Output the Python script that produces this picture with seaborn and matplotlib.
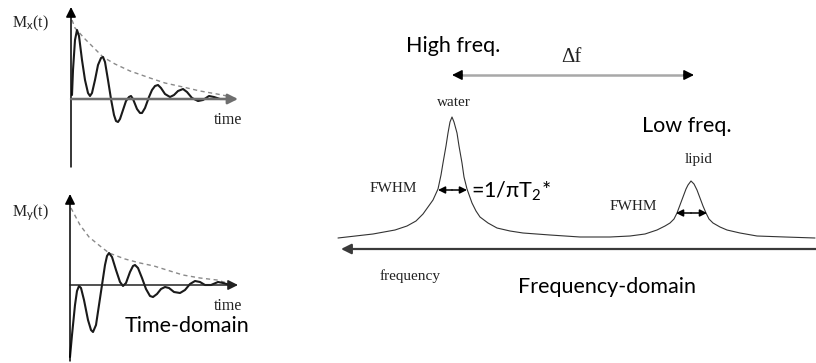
import seaborn as sns
from matplotlib import pyplot as plt

# all coordinates are in picture pixels (x to the right, y downwards)

# M_x(t) free induction decay, top left
mx_x = [72, 73, 75, 77, 79, 82, 85, 88, 90, 92, 95, 98, 101, 103, 105, 108, 111, 114, 116, 118,
        120, 123, 126, 129, 131, 133, 137, 140, 142, 145, 149, 152, 155, 158, 161, 165, 170, 174,
        178, 183, 187, 192, 198, 203, 209, 214, 220, 228]
mx_y = [95, 70, 40, 30, 36, 60, 80, 93, 96, 93, 80, 65, 58, 57, 62, 80, 99, 115, 121, 122,
        119, 110, 101, 97, 96, 99, 109, 113, 113, 108, 97, 90, 86, 85, 88, 94, 97, 95,
        91, 89, 92, 98, 101, 100, 96, 97, 99, 99]
mx_env_x = [72, 75, 85, 95, 103, 115, 130, 150, 165, 183, 200, 217, 227]
mx_env_y = [20, 28, 39, 49, 57, 64, 71, 78, 83, 87, 91, 94, 96]

# M_y(t), bottom left
my_x = [70, 72, 75, 77, 79, 81, 84, 88, 91, 93, 96, 99, 102, 105, 107, 109, 112, 116, 120, 123,
        126, 130, 133, 135, 138, 142, 146, 150, 153, 157, 161, 165, 169, 174, 180, 185, 190, 195,
        200, 205, 211, 218, 223, 230]
my_y = [357, 335, 305, 291, 286, 288, 300, 320, 330, 332, 325, 305, 285, 265, 256, 253, 257, 270, 282, 286,
        283, 272, 266, 265, 268, 278, 289, 296, 297, 294, 289, 287, 288, 292, 293, 290, 284, 281,
        282, 285, 285, 282, 283, 285]
my_env_x = [71, 80, 89, 100, 109, 125, 140, 154, 170, 183, 200, 217, 227]
my_env_y = [208, 225, 237, 246, 253, 259, 263, 266, 271, 275, 278, 280, 283]

# spectrum with water and lipid peaks
spec_x = [338, 373, 395, 407, 416, 423, 428, 433, 438, 441, 443, 446, 448, 450, 452, 454, 457, 459,
          462, 464, 467, 472, 476, 480, 488, 497, 510, 523, 550, 580, 610, 630, 645, 657, 665, 670,
          674, 677, 680, 683, 686, 688, 691, 694, 697, 700, 703, 706, 709, 713, 720, 727, 740, 757,
          785, 815]
spec_y = [238, 234, 230, 226, 221, 214, 207, 200, 189, 175, 163, 146, 133, 122, 117, 122, 133, 146,
          163, 177, 189, 203, 211, 217, 223, 228, 231, 233, 235, 237, 237, 236, 234, 230, 226, 223,
          219, 213, 205, 197, 189, 185, 181, 184, 190, 198, 206, 213, 219, 223, 227, 230, 233, 236,
          237, 238]

sns.set_theme(style='white')
plt.rcParams['mathtext.fontset'] = 'custom'
plt.rcParams['mathtext.rm'] = 'Lato'
plt.rcParams['mathtext.it'] = 'Lato:italic'

fig = plt.figure(figsize=(8.16, 3.63), dpi=100)
ax = fig.add_axes([0, 0, 1, 1])
ax.set_xlim(0, 816)
ax.set_ylim(363, 0)
ax.axis('off')


def arrow(x0, y0, x1, y1, color='black', lw=1.1, style='-|>', hl=0.6, hw=0.3, ms=10):
    ax.annotate('', xy=(x1, y1), xytext=(x0, y0),
                arrowprops=dict(arrowstyle=f'{style},head_length={hl},head_width={hw}',
                                color=color, lw=lw, shrinkA=0, shrinkB=0, mutation_scale=ms))


# time-domain axes
arrow(71, 167, 71, 7)
arrow(71, 99, 238, 99, color='#6e6e6e', lw=1.8)
arrow(70, 361, 70, 194)
arrow(70, 285, 238, 285, color='#222222', lw=1.1)

sns.lineplot(x=mx_env_x, y=mx_env_y, sort=False, estimator=None, color='#8a8a8a', lw=1.0,
             linestyle=(0, (3, 2.5)), ax=ax)
sns.lineplot(x=mx_x, y=mx_y, sort=False, estimator=None, color='#1a1a1a', lw=1.5, ax=ax)
sns.lineplot(x=my_env_x, y=my_env_y, sort=False, estimator=None, color='#8a8a8a', lw=1.0,
             linestyle=(0, (3, 2.5)), ax=ax)
sns.lineplot(x=my_x, y=my_y, sort=False, estimator=None, color='#1a1a1a', lw=1.5, ax=ax)

# frequency-domain
arrow(816, 249, 341, 249, color='#3a3a3a', lw=1.6)
sns.lineplot(x=spec_x, y=spec_y, sort=False, estimator=None, color='#333333', lw=0.8, ax=ax)

ax.plot([458, 688], [75, 75], color='#a8a8a8', lw=1.8, solid_capstyle='butt')
arrow(462, 75, 452, 75)
arrow(684, 75, 694, 75)

arrow(452, 190, 438, 190, ms=7)
arrow(452, 190, 467, 190, ms=7)
arrow(691, 213, 676, 213, ms=7)
arrow(691, 213, 707, 213, ms=7)

serif = dict(family='Liberation Serif', color='#222222', ha='center', va='center')
sans = dict(family='Lato', color='black', ha='center', va='center')

ax.text(30, 23, r'M$_\mathrm{x}$(t)', fontsize=11.5, **serif)
ax.text(30, 213, r'M$_\mathrm{y}$(t)', fontsize=11.5, **serif)
ax.text(228, 120, 'time', fontsize=11.5, **serif)
ax.text(228, 306, 'time', fontsize=11.5, **serif)
ax.text(187, 326, 'Time-domain', fontsize=15.5, **sans)

ax.text(453, 46, 'High freq.', fontsize=15.5, **sans)
ax.text(571, 57, 'Δf', fontsize=15, **serif)
ax.text(454, 102, 'water', fontsize=11, **serif)
ax.text(687, 126, 'Low freq.', fontsize=15.5, **sans)
ax.text(699, 159, 'lipid', fontsize=11, **serif)
ax.text(393, 188, 'FWHM', fontsize=11, **serif)
ax.text(633, 207, 'FWHM', fontsize=11, **serif)
ax.text(471, 191, r'=1/$\mathrm{\pi}$T$_\mathrm{2}$*', fontsize=15.5, family='Lato', color='black',
        ha='left', va='center')
ax.text(410, 276, 'frequency', fontsize=11, **serif)
ax.text(607, 287, 'Frequency-domain', fontsize=15.5, **sans)

fig.savefig('out.png', dpi=100, facecolor='white')
